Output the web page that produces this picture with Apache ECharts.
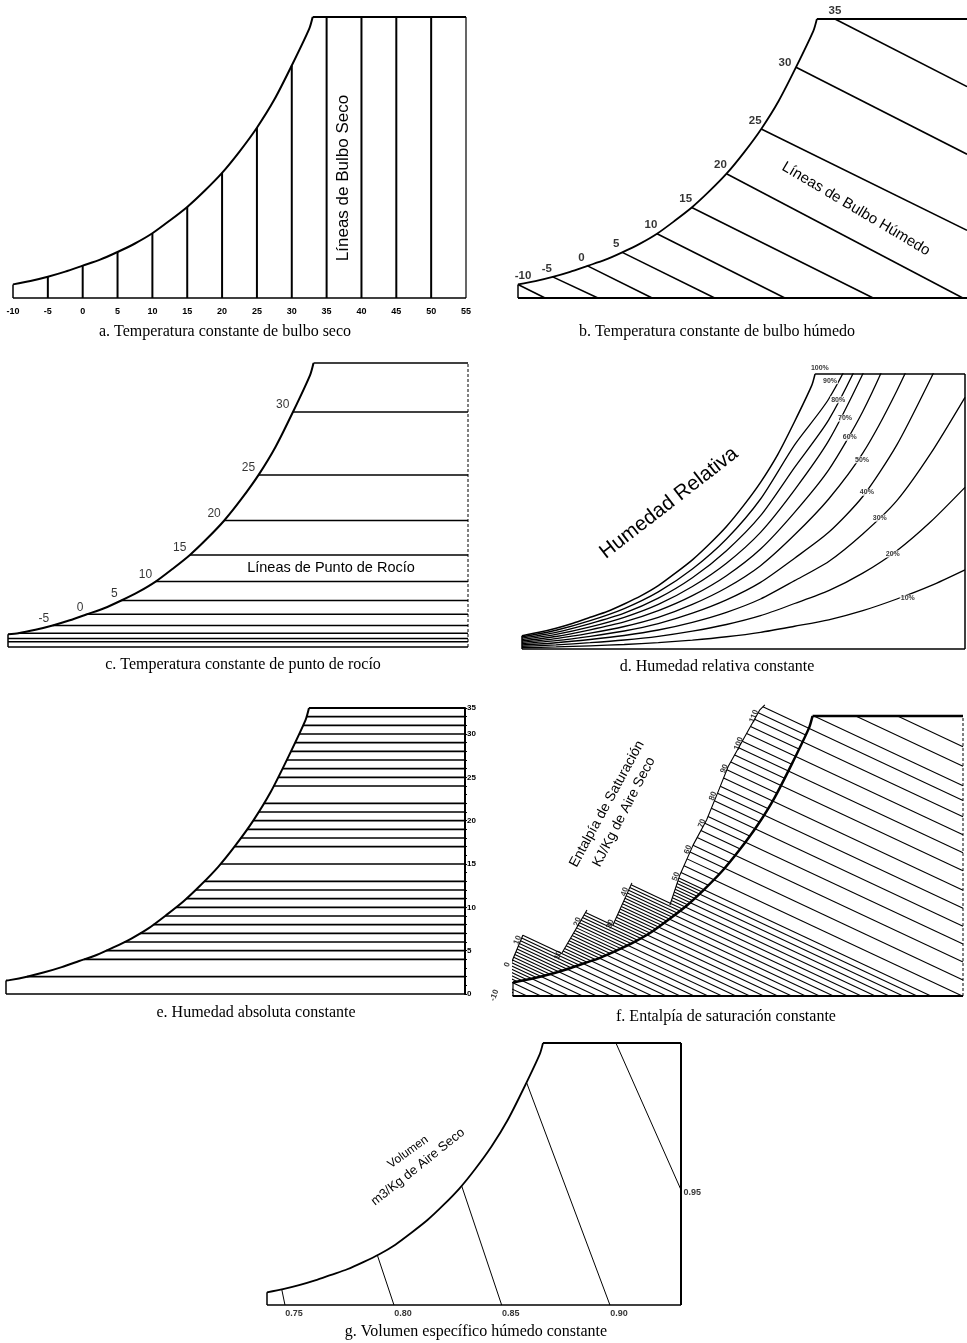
<!DOCTYPE html>
<html><head><meta charset="utf-8">
<script src="https://cdn.jsdelivr.net/npm/echarts@6.0.0/dist/echarts.min.js"></script>
<style>html,body{margin:0;padding:0;background:#fff}#c{width:967px;height:1343px}</style>
</head><body><div id="c"></div>
<script>
// ---------------- DATA ----------------
// saturation curve: dry-bulb temperature (°C) vs humidity ratio (g/kg)
const satT = [-12,-10,-7.5,-5,-2.5,0,2.5,5,7.5,10,12.5,15,17.5,20,22.5,25,27.5,30,32.5,33];
const satW = [1.45,1.6,2.0,2.5,3.1,3.8,4.5,5.4,6.4,7.6,9.1,10.7,12.6,14.7,17.2,20.0,23.3,27.3,31.6,33.0];
const wTop = 33;

// a. dry-bulb lines
const dbTemps = [-5,0,5,10,15,20,25,30,35,40,45,50];

// b. wet-bulb lines
const wbLabels = ['-10','-5','0','5','10','15','20','25','30','35'];
const wbStartT = [-10,-5,0,5,10,15,20,25,30,35.6];
const wbStartW = [1.6,2.5,3.8,5.4,7.6,10.7,14.7,20.0,27.3,33.0];
const wbEndT   = [-6.1,1.5,9.3,18.3,28.4,41.1,54.0,54.6,54.6,54.6];
const wbEndW   = [0,0,0,0,0,0,0,8.0,17.0,25.0];

// c. dew-point lines
const dpT = [-20,-15,-10,-5,0,5,10,15,20,25,30];
const dpW = [0.6,1.0,1.6,2.5,3.8,5.4,7.6,10.7,14.7,20.0,27.3];
const dpLabels = ['','','','-5','0','5','10','15','20','25','30'];

// d. relative humidity curves
const rhT = [-10,-5,0,5,10,15,20,25,30,35,40,45,50,55];
const rh90 = [1.45,2.25,3.4,4.85,6.85,9.6,13.2,18.0,24.5,30.0,38.0,48,62,78];
const rh80 = [1.3,2.0,3.05,4.3,6.1,8.55,11.8,16.0,21.8,27.5,35.5,45,58,72];
const rh70 = [1.12,1.75,2.65,3.8,5.35,7.5,10.3,14.0,19.1,25.0,33.0,42,54,66];
const rh60 = [0.96,1.5,2.3,3.25,4.6,6.4,8.8,12.0,16.4,21.5,28.5,37.5,48,60];
const rh50 = [0.8,1.25,1.9,2.7,3.8,5.35,7.35,10.0,13.7,18.0,23.5,31.0,40,50];
const rh40 = [0.64,1.0,1.52,2.16,3.05,4.3,5.9,8.0,10.9,14.0,18.3,24.5,32.5,41];
const rh30 = [0.48,0.75,1.14,1.62,2.28,3.2,4.4,6.0,8.2,10.5,13.8,17.8,23.5,30.2];
const rh20 = [0.32,0.5,0.76,1.08,1.52,2.14,2.94,4.0,5.46,7.0,9.1,11.8,15.3,19.4];
const rh10 = [0.16,0.25,0.38,0.54,0.76,1.07,1.47,2.0,2.73,3.5,4.6,6.0,7.6,9.5];
const rhNames = ['100%','90%','80%','70%','60%','50%','40%','30%','20%','10%'];
const rhLabelT = [33.7,35.2,36.4,37.4,38.1,39.9,40.6,42.5,44.4,46.6];
const rhLabelW = [33.7,32.2,29.9,27.7,25.4,22.7,18.8,15.7,11.4,6.1];

// e. absolute humidity lines (g/kg)
const ahW = [2,4,5,6,7,8,9,10,11,12,13,15,17,18,19,20,21,22,24,25,26,27,28,29,30,31,32];
const ahTickLabels = ['0','5','10','15','20','25','30','35'];
const ahTickW = [0,5,10,15,20,25,30,33];

// f. enthalpy lines (kJ/kg): long lines run to the chart edge, short ones stop at saturation
const enthLong = [-10,-8,-6,-4,-2,0,2,4,6,8,10,12,14,16,18,20,22,24,26,28,30,32,34,36,38,40,42,44,46,48,50,
  54.5,59.5,65,70.5,76,81.5,87,93,98.5,104,109.5,114.5,119,125,131];
const enthShort = [-9,-7,-5,-3,-1,1,3,5,7,9,11,13,15,17,19,21,23,25,27,29,31,33,35,37,39,41,43,45,47,49,
  52,57,62,67.7,73,78.7,84,90,95.7,101,106.7,112];
const enthLabels = ['-10','0','10','10','20','30','40','50','60','70','80','90','100','110'];
const enthLabelH = [-10,0,9.8,11,24,28,40,52,62,72,82,92,102.5,113];
// enthalpy scale pieces (T °C, W g/kg)
const fScale1T = [-11.87,-8.57], fScale1W = [0.71,7.19];
const fScale2T = [-2.97,0.62],  fScale2W = [5.07,10.14];
const fScale3T = [4.35,7.07],   fScale3W = [8.37,13.33];
const fScale4T = [12.53,13.96,15.87,17.79,19.45,20.89,23.29,25.44,26.15];
const fScale4W = [10.73,14.27,17.81,20.75,24.09,27.04,30.58,33.73,34.32];

// g. specific volume lines
const volLabels = ['0.75','0.80','0.85','0.90','0.95'];
const volStartT = [-7.71,7.18,20.33,30.45,44.36];
const volStartW = [2.0,6.3,15.0,28.0,33.0];
const volEndT   = [-7.2,9.78,26.56,43.43,54.5];
const volEndW   = [0,0,0,0,14.5];

const captions = [
  'a. Temperatura constante de bulbo seco',
  'b. Temperatura constante de bulbo húmedo',
  'c. Temperatura constante de punto de rocío',
  'd. Humedad relativa constante',
  'e. Humedad absoluta constante',
  'f. Entalpía de saturación constante',
  'g. Volumen específico húmedo constante'
];

// ---------------- LAYOUT ----------------
const grids = [
  {left:13,  top:17,   width:453, height:281},
  {left:518, top:19,   width:449, height:279},
  {left:8,   top:363,  width:460, height:284},
  {left:522, top:374,  width:443, height:275},
  {left:6,   top:708,  width:459, height:286},
  {left:513, top:716,  width:450, height:280},
  {left:267, top:1043, width:414, height:262}
];
const xr = [[-10,55],[-10,54.6],[-11.5,55.5],[-10,55],[-10.5,55.4],[-10,54.6],[-10,54.5]];
const ENTH_K = 2.6; // slope of enthalpy lines: h = T + K*w

function satAt(T){
  for (let i=0;i<satT.length-1;i++){
    if (T>=satT[i] && T<=satT[i+1]) return satW[i]+(T-satT[i])/(satT[i+1]-satT[i])*(satW[i+1]-satW[i]);
  }
  return T<satT[0]?satW[0]:satW[satW.length-1];
}
function satInv(w){
  for (let i=0;i<satW.length-1;i++){
    if (w>=satW[i] && w<=satW[i+1]) return satT[i]+(w-satW[i])/(satW[i+1]-satW[i])*(satT[i+1]-satT[i]);
  }
  return w<satW[0]?satT[0]:satT[satT.length-1];
}

const series = [];
function line(g, pts, w, o){
  o = o||{};
  series.push({type:'line', xAxisIndex:g, yAxisIndex:g, data:pts, symbol:'none', silent:true, animation:false,
    smooth:o.smooth||false, clip:!!o.clip, z:o.z||2,
    lineStyle:{color:'#000', width:w, type:o.dash||'solid', cap:'butt'}});
}
function labels(g, items, lab){
  series.push({type:'scatter', xAxisIndex:g, yAxisIndex:g, symbolSize:1, silent:true, animation:false, clip:false, z:5,
    itemStyle:{color:'rgba(0,0,0,0)'},
    data:items.map(it=>{const d={value:[it[0],it[1]], name:it[2]}; if(it[3]) d.label=it[3]; return d;}),
    label:Object.assign({show:true, formatter:'{b}', color:'#000', fontFamily:'Liberation Sans'}, lab)});
}
function satCurve(g, w){
  const x0 = xr[g][0];
  const pts = [[x0, satAt(x0)]];
  satT.forEach((t,i)=>{ if (t>x0) pts.push([t, satW[i]]); });
  line(g, pts, w, {smooth:0.25});
}
function frame(g, o){
  const [x0,x1] = xr[g];
  line(g, [[x0,0],[x1,0]], o.bottom||1.5);
  line(g, [[x0,0],[x0,satAt(x0)]], o.left||1.5);
  line(g, [[satT[satT.length-1], wTop],[x1,wTop]], o.top||1.5);
  if (o.right) line(g, [[x1,0],[x1,wTop]], o.right, {dash:o.rightDash});
  satCurve(g, o.sat||2);
}

// ---- a ----
frame(0, {bottom:1.5, left:1.5, top:2, right:1.2, sat:2});
dbTemps.forEach(t=>{ line(0, [[t,0],[t, t<=30?satAt(t):wTop]], 2); });

// ---- b ----
frame(1, {bottom:1.8, left:1.5, top:2, sat:1.8});
wbLabels.forEach((l,i)=>{ line(1, [[wbStartT[i],wbStartW[i]],[wbEndT[i],wbEndW[i]]], 1.6); });
labels(1, wbLabels.map((l,i)=>[wbStartT[i], wbStartW[i], l,
  i===0?{offset:[5,0]}:(i===9?{offset:[0,0]}:(i===8?{offset:[-11,4]}:null))]),
  {position:'top', distance:2, offset:[-6,0], fontSize:11.5, fontWeight:'bold'});

// ---- c ----
frame(2, {bottom:1.5, left:1.5, top:1.5, right:1, rightDash:[3,2], sat:2});
dpT.forEach((t,i)=>{ const s = Math.max(satInv(dpW[i]), xr[2][0]); line(2, [[s,dpW[i]],[xr[2][1],dpW[i]]], 1.5); });
labels(2, dpT.map((t,i)=>[satInv(dpW[i]), dpW[i], dpLabels[i]]).filter(d=>d[2]!==''),
  {position:'left', distance:3, offset:[0,-7], fontSize:12});

// ---- d ----
frame(3, {bottom:1.5, left:1.5, top:1.5, right:1.5, sat:1.5});
[rh90,rh80,rh70,rh60,rh50,rh40,rh30,rh20,rh10].forEach(arr=>{
  line(3, rhT.map((t,i)=>[t,arr[i]]), 1.3, {smooth:0.25, clip:true});
});
labels(3, rhNames.map((n,i)=>[rhLabelT[i], rhLabelW[i], n]),
  {position:'inside', fontSize:7, fontWeight:'bold', backgroundColor:'#fff', padding:[0,1]});

// ---- e ----
frame(4, {bottom:1.5, left:1.5, top:2, sat:2});
ahW.forEach(w=>{ line(4, [[satInv(w), w],[xr[4][1], w]], 1.7); });

// ---- f ----
frame(5, {bottom:2, left:1.2, top:2.5, right:1, rightDash:[3,2], sat:2.5});
const fSegs = [[fScale1T,fScale1W],[fScale2T,fScale2W],[fScale3T,fScale3W],[fScale4T,fScale4W]];
fSegs.forEach(s=>line(5, s[0].map((t,i)=>[t,s[1][i]]), 1.1));
function hOf(T,w){ return T + ENTH_K*w; }
function onScale(h){
  let best=null, bd=1e9;
  for (const s of fSegs){
    const T=s[0], W=s[1];
    for (let i=0;i<T.length-1;i++){
      const h1=hOf(T[i],W[i]), h2=hOf(T[i+1],W[i+1]);
      const lo=Math.min(h1,h2), hi=Math.max(h1,h2);
      if (h>=lo-1e-6 && h<=hi+1e-6){
        const t=(h-h1)/(h2-h1);
        return [T[i]+t*(T[i+1]-T[i]), W[i]+t*(W[i+1]-W[i])];
      }
      const d=Math.min(Math.abs(h-lo),Math.abs(h-hi));
      if (d<bd){bd=d; best = Math.abs(h-h1)<Math.abs(h-h2)?[T[i],W[i]]:[T[i+1],W[i+1]];}
    }
  }
  return bd<1.5?best:null;
}
function onSat(h){
  for (let i=0;i<satT.length-1;i++){
    const h1=hOf(satT[i],satW[i]), h2=hOf(satT[i+1],satW[i+1]);
    if (h>=h1 && h<=h2){ const t=(h-h1)/(h2-h1); return [satT[i]+t*(satT[i+1]-satT[i]), satW[i]+t*(satW[i+1]-satW[i])]; }
  }
  const x0 = xr[5][0];
  if (h < hOf(x0, satAt(x0))) return [x0, (h-x0)/ENTH_K];
  return null;
}
const fx1 = xr[5][1];
enthLong.forEach(h=>{
  let s = onScale(h);
  if (!s){ const T = h - ENTH_K*wTop; if (T>=satT[satT.length-1]-0.5) s=[T,wTop]; else return; }
  const e = h<=fx1 ? [h,0] : [fx1,(h-fx1)/ENTH_K];
  line(5, [s,e], 1.1);
});
enthShort.forEach(h=>{
  const s = onScale(h), e = onSat(h);
  if (s && e) line(5, [s,e], 1.1);
});
labels(5, enthLabelH.map((h,i)=>{ const p=onScale(h)||[0,0]; return [p[0],p[1],enthLabels[i]]; }),
  {position:'left', distance:3, rotate:70, fontSize:8, fontWeight:'bold'});

// ---- g ----
frame(6, {bottom:1.5, left:1.5, top:2, right:2, sat:1.8});
volLabels.forEach((l,i)=>{ line(6, [[volStartT[i],volStartW[i]],[volEndT[i],volEndW[i]]], 1); });
labels(6, volLabels.slice(0,4).map((l,i)=>[volEndT[i], volEndW[i], l]),
  {position:'bottom', distance:4, offset:[9,0], fontSize:9, fontWeight:'bold'});
labels(6, [[volEndT[4], volEndW[4], volLabels[4]]],
  {position:'right', distance:2, offset:[0,3], fontSize:9, fontWeight:'bold'});

// ---------------- AXES ----------------
const xAxis = grids.map((g,i)=>({type:'value', gridIndex:i, min:xr[i][0], max:xr[i][1], show:false}));
xAxis[0] = {type:'value', gridIndex:0, min:-10, max:55, interval:5,
  axisLine:{show:false}, axisTick:{show:false}, splitLine:{show:false},
  axisLabel:{show:true, color:'#000', fontSize:9, fontWeight:'bold', fontFamily:'Liberation Sans', margin:9}};
const yAxis = grids.map((g,i)=>({type:'value', gridIndex:i, min:0, max:wTop, show:false}));
yAxis[4] = {type:'value', gridIndex:4, min:0, max:wTop, interval:1, position:'right',
  axisLine:{show:true, onZero:false, lineStyle:{color:'#000', width:2}},
  axisTick:{show:true, length:2, lineStyle:{color:'#000', width:1}},
  splitLine:{show:false},
  axisLabel:{show:true, color:'#000', fontSize:8, fontWeight:'bold', fontFamily:'Liberation Sans', margin:2,
    formatter:v=>{ const k = ahTickW.indexOf(v); return k>=0?ahTickLabels[k]:''; }}};

// ---------------- TEXT ----------------
const capPos = [[225,332],[717,332],[243,665],[717,667],[256,1013],[726,1017],[476,1332]];
const graphic = captions.map((t,i)=>({type:'text', x:capPos[i][0], y:capPos[i][1], silent:true,
  style:{text:t, fill:'#000', font:'16px "Liberation Serif"', textAlign:'center', textVerticalAlign:'middle', verticalAlign:'middle'}}));
function gtext(t,x,y,size,rotDeg,weight){
  graphic.push({type:'text', x:x, y:y, rotation:rotDeg*Math.PI/180, silent:true,
    style:{text:t, fill:'#000', font:(weight||'normal')+' '+size+'px "Liberation Sans"', textAlign:'center', textVerticalAlign:'middle', verticalAlign:'middle'}});
}
gtext('Líneas de Bulbo Seco', 343, 178, 17, 90);
gtext('Líneas de Bulbo Húmedo', 856, 209, 15, -30.7);
gtext('Líneas de Punto de Rocío', 331, 568, 14.5, 0);
gtext('Humedad Relativa', 669, 503, 20.5, 37.8);
gtext('Entalpía de Saturación', 607, 804, 14, 61.5);
gtext('KJ/Kg de Aire Seco', 624, 812, 14, 62.8);
gtext('Volumen', 408, 1152, 12, 36);
gtext('m3/Kg de Aire Seco', 418, 1167, 13, 38.5);

const chart = echarts.init(document.getElementById('c'), null, {renderer:'canvas'});
chart.setOption({animation:false, backgroundColor:'#fff', grid:grids, xAxis:xAxis, yAxis:yAxis, series:series, graphic:graphic});
</script></body></html>
